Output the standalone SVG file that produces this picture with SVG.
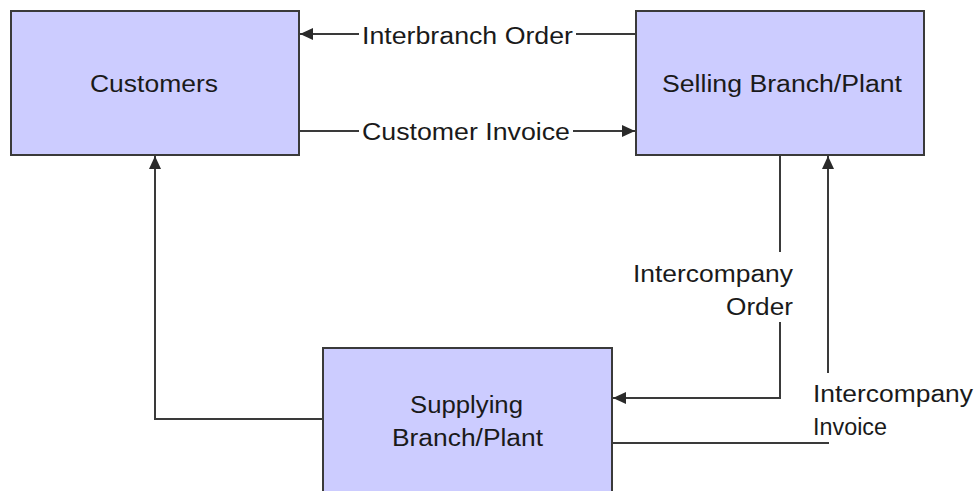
<svg xmlns="http://www.w3.org/2000/svg" width="979" height="491" viewBox="0 0 979 491">
<style>
.box{fill:#ccccff;stroke:#3a3a3a;stroke-width:2}
.lbl{font-family:"Liberation Sans",Arial,sans-serif;font-size:23px;fill:#1a1a1a}
.conn{fill:none;stroke:#3a3a3a;stroke-width:2}
</style>
<defs>
<marker id="arr" markerUnits="userSpaceOnUse" markerWidth="14" markerHeight="12" refX="13" refY="6" orient="auto">
<path d="M0,0 L13,6 L0,12 z" fill="#2a2a2a"/>
</marker>
</defs>
<rect width="979" height="491" fill="#ffffff"/>
<g id="customers">
<rect class="box" x="11" y="11" width="288" height="144"/>
<text class="lbl" x="90" y="92" textLength="128" lengthAdjust="spacingAndGlyphs">Customers</text>
</g>
<g id="selling">
<rect class="box" x="636" y="11" width="288" height="144"/>
<text class="lbl" x="662" y="92" textLength="240" lengthAdjust="spacingAndGlyphs">Selling Branch/Plant</text>
</g>
<g id="supplying">
<rect class="box" x="323" y="348" width="289" height="150"/>
<text class="lbl" x="410" y="413" textLength="113" lengthAdjust="spacingAndGlyphs">Supplying</text>
<text class="lbl" x="392" y="446" textLength="151" lengthAdjust="spacingAndGlyphs">Branch/Plant</text>
</g>
<g id="connectors">
<path class="conn" d="M636,34 H576"/>
<path class="conn" d="M359,34 H300" marker-end="url(#arr)"/>
<text class="lbl" x="362" y="44" textLength="211" lengthAdjust="spacingAndGlyphs">Interbranch Order</text>
<path class="conn" d="M299,131 H359"/>
<path class="conn" d="M573,131 H635" marker-end="url(#arr)"/>
<text class="lbl" x="362" y="140" textLength="208" lengthAdjust="spacingAndGlyphs">Customer Invoice</text>
<path class="conn" d="M780,155 V252"/>
<path class="conn" d="M780,322 V398 H613" marker-end="url(#arr)"/>
<text class="lbl" x="633" y="282" textLength="160" lengthAdjust="spacingAndGlyphs">Intercompany</text>
<text class="lbl" x="726" y="315" textLength="67" lengthAdjust="spacingAndGlyphs">Order</text>
<path class="conn" d="M828,373 V156" marker-end="url(#arr)"/>
<path class="conn" d="M612,443 H829"/>
<text class="lbl" x="813" y="402" textLength="160" lengthAdjust="spacingAndGlyphs">Intercompany</text>
<text class="lbl" x="813" y="435" textLength="74" lengthAdjust="spacingAndGlyphs">Invoice</text>
<path class="conn" d="M323,419 H155 V156" marker-end="url(#arr)"/>
</g>
</svg>
